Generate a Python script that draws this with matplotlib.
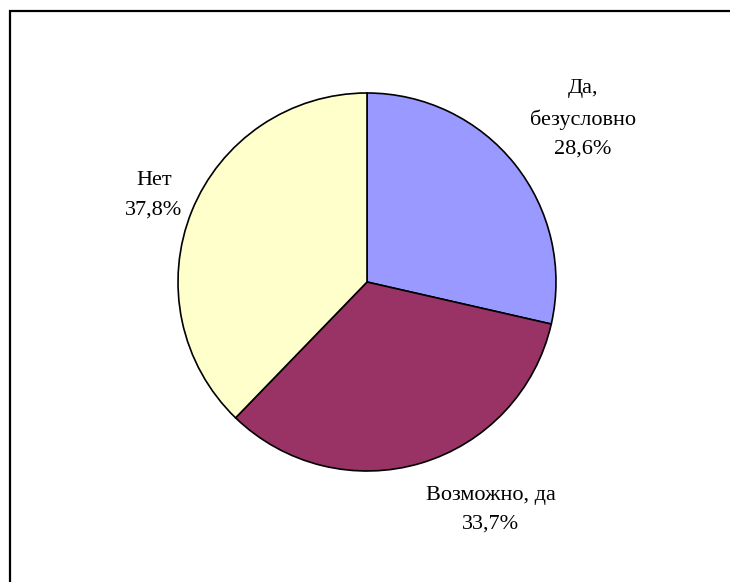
import matplotlib
matplotlib.use("Agg")
import matplotlib.pyplot as plt
from matplotlib.patches import Rectangle

# answer shares, in percent
categories = ["Да,\nбезусловно", "Возможно, да", "Нет"]
shares = [28.6, 33.7, 37.8]
colors = ["#9999FF", "#993366", "#FFFFCC"]

# label block centres, in pie radii from the centre
label_xy = [(1.143, 0.862), (0.656, -1.206), (-1.127, 0.460)]

plt.rcParams["font.family"] = ["Liberation Serif", "DejaVu Serif"]

fig = plt.figure(figsize=(7.3, 5.82), dpi=100)
W, H = 730, 582

# outer frame, cut by the right and bottom edges of the canvas
fig.patches.append(Rectangle((10 / W, -0.1), 1.2, 1 - 11 / H + 0.1,
                             transform=fig.transFigure, fill=False,
                             edgecolor="black", linewidth=1.6))

cx, cy, r = 367, 282, 189
pad = 1.03
ax = fig.add_axes([(cx - r * pad) / W, (H - cy - r * pad) / H,
                   2 * r * pad / W, 2 * r * pad / H])
ax.pie(shares, colors=colors, startangle=90, counterclock=False, radius=1,
       wedgeprops=dict(edgecolor="black", linewidth=1.2))
ax.set_xlim(-pad, pad)
ax.set_ylim(-pad, pad)
ax.set_aspect("equal")
ax.axis("off")

for name, val, (x, y) in zip(categories, shares, label_xy):
    text = f"{name}\n{val:.1f}%".replace(".", ",")
    ax.text(x, y, text, ha="center", va="center", fontsize=16,
            linespacing=1.72, clip_on=False)

fig.savefig("out.png", dpi=100)
